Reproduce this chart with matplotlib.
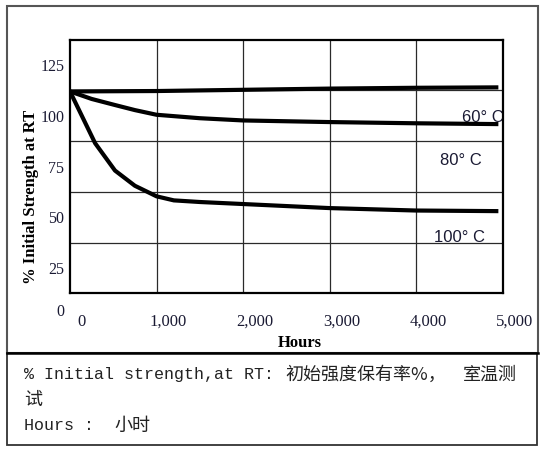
import matplotlib
matplotlib.use("Agg")
import matplotlib.pyplot as plt
from matplotlib.transforms import ScaledTranslation
from matplotlib.lines import Line2D
from matplotlib.patches import Rectangle

# ---- data ----
hours_60 = [0, 1000, 2000, 3000, 4000, 4950]
strength_60 = [99.5, 99.7, 100.3, 100.9, 101.3, 101.5]

hours_80 = [0, 250, 520, 750, 1000, 1500, 2000, 3000, 4000, 4950]
strength_80 = [99.5, 95.8, 92.8, 90.3, 88.0, 86.3, 85.2, 84.4, 83.8, 83.4]

hours_100 = [0, 290, 520, 750, 1000, 1200, 1500, 2000, 3000, 4000, 4950]
strength_100 = [99.5, 74.0, 60.5, 53.0, 47.8, 45.8, 45.0, 44.0, 42.0, 40.8, 40.5]

x_ticks = [0, 1000, 2000, 3000, 4000, 5000]
x_tick_labels = ["0", "1,000", "2,000", "3,000", "4,000", "5,000"]
y_ticks = [0, 25, 50, 75, 100, 125]
y_tick_labels = ["0", "25", "50", "75", "100", "125"]

curve_labels = ["60° C", "80° C", "100° C"]
label_pos_hours = [4775, 4520, 4500]
label_pos_value = [86.8, 65.3, 27.5]

caption_en1 = "% Initial strength,at RT:"
caption_cn1 = "初始强度保有率%，"
caption_cn1b = "室温测"
caption_cn2 = "试"
caption_en3 = "Hours :"
caption_cn3 = "小时"

# ---- figure ----
W, H = 545, 451
fig = plt.figure(figsize=(W / 100, H / 100), dpi=100)

def fx(x):
    return x / W

def fy(y):
    return 1 - y / H

ax_l, ax_r, ax_t, ax_b = 70, 502.7, 39.7, 293.3
ax = fig.add_axes([fx(ax_l), fy(ax_b), (ax_r - ax_l) / W, (ax_b - ax_t) / H])
ax.set_xlim(0, 5000)
ax.set_ylim(0, 125)

# grid
for gx in [1000, 2000, 3000, 4000]:
    ax.axvline(gx, color="#2a2a2a", lw=0.9, zorder=1)
for gy in [25, 50, 75, 100]:
    ax.axhline(gy, color="#2a2a2a", lw=0.9, zorder=1)

for sp in ax.spines.values():
    sp.set_linewidth(1.6)
    sp.set_color("black")

lw = 3.0
ax.plot(hours_60, strength_60, color="black", lw=lw, solid_capstyle="butt", zorder=3)
ax.plot(hours_80, strength_80, color="black", lw=lw, solid_capstyle="butt", zorder=3)
ax.plot(hours_100, strength_100, color="black", lw=lw, solid_capstyle="butt", zorder=3)

txt_color = "#1a1a33"
for lab, hx, vy in zip(curve_labels, label_pos_hours, label_pos_value):
    ax.text(hx, vy, lab, ha="center", va="center", fontsize=12,
            family="Liberation Sans", color=txt_color, clip_on=True, zorder=0.5)

# ticks (labels shifted as in the reference)
ax.set_xticks(x_ticks)
ax.set_xticklabels(x_tick_labels, family="Liberation Serif", fontsize=12, color=txt_color)
ax.set_yticks(y_ticks)
ax.set_yticklabels(y_tick_labels, family="Liberation Serif", fontsize=11.5, color=txt_color)
ax.tick_params(axis="both", length=0)
ax.tick_params(axis="x", pad=15)
ax.tick_params(axis="y", pad=4)

for lab in ax.get_xticklabels():
    lab.set_transform(lab.get_transform() + ScaledTranslation(0.12, 0, fig.dpi_scale_trans))
for lab in ax.get_yticklabels():
    dy = -0.17 if lab.get_text() == "0" else -0.254
    lab.set_transform(lab.get_transform() + ScaledTranslation(0, dy, fig.dpi_scale_trans))

fig.text(fx(300), fy(343), "Hours", ha="center", va="center", fontsize=12,
         family="Liberation Serif", weight="bold", color="black")
fig.text(fx(31), fy(197), "% Initial Strength at RT", ha="center", va="center",
         rotation=90, fontsize=12, family="Liberation Serif", weight="bold", color="black")

# frames
fig.add_artist(Rectangle((fx(7), fy(352.7)), (538 - 7) / W, (352.7 - 5.7) / H,
                         transform=fig.transFigure, fill=False, edgecolor="#555555", lw=1.5))
fig.add_artist(Rectangle((fx(7), fy(445)), (537 - 7) / W, (445 - 352.7) / H,
                         transform=fig.transFigure, fill=False, edgecolor="#333333", lw=1.3))
fig.add_artist(Line2D([fx(7), fx(538)], [fy(352.7), fy(352.7)],
                      transform=fig.transFigure, color="black", lw=1.8))

# caption
cap_color = "#222222"
fig.text(fx(24), fy(374), caption_en1, ha="left", va="center", fontsize=12,
         family="Liberation Mono", color=cap_color)
fig.text(fx(285), fy(375), caption_cn1, ha="left", va="center", fontsize=13,
         family=["Noto Sans CJK SC", "DejaVu Sans"], color=cap_color)
fig.text(fx(463), fy(375), caption_cn1b, ha="left", va="center", fontsize=13,
         family=["Noto Sans CJK SC", "DejaVu Sans"], color=cap_color)
fig.text(fx(24), fy(400), caption_cn2, ha="left", va="center", fontsize=13,
         family=["Noto Sans CJK SC", "DejaVu Sans"], color=cap_color)
fig.text(fx(24), fy(426), caption_en3, ha="left", va="center", fontsize=12,
         family="Liberation Mono", color=cap_color)
fig.text(fx(114), fy(426), caption_cn3, ha="left", va="center", fontsize=13,
         family=["Noto Sans CJK SC", "DejaVu Sans"], color=cap_color)

fig.savefig("out.png", dpi=100)
